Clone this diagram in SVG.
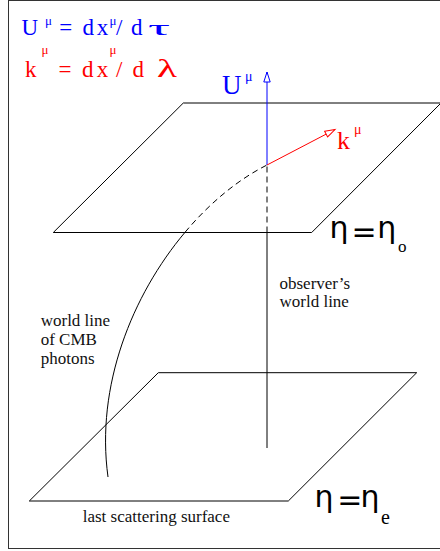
<svg xmlns="http://www.w3.org/2000/svg" width="440" height="551" viewBox="0 0 440 551">
<style>
.ln{fill:none;stroke:#000;stroke-width:1}
.serif{font-family:"Liberation Serif","Times New Roman",serif}
.sym{font-family:"DejaVu Sans",sans-serif;font-size:30px;fill:#000}
.lbl{font-family:"Liberation Serif","Times New Roman",serif;font-size:17px;fill:#111}
.blue{fill:#0000ff}
.red{fill:#ff0000}
.sup{font-size:13px}
</style>
<defs>
<marker id="ahBlue" markerUnits="userSpaceOnUse" markerWidth="12" markerHeight="8" refX="10" refY="4" orient="auto" overflow="visible">
<path d="M0,0.8 L10,4 L0,7.2 Z" fill="#fff" stroke="#0000ff" stroke-width="1"/>
</marker>
<marker id="ahRed" markerUnits="userSpaceOnUse" markerWidth="12" markerHeight="8" refX="10" refY="4" orient="auto" overflow="visible">
<path d="M0,0.8 L10,4 L0,7.2 Z" fill="#fff" stroke="#ff0000" stroke-width="1"/>
</marker>
</defs>
<rect id="frame" x="8.5" y="0.5" width="440" height="548" fill="#fff" stroke="#333" stroke-width="1"/>

<g id="equations" class="serif" font-size="23">
<text class="blue"><tspan x="21.5" y="35">U</tspan><tspan class="sup" x="45" y="24.5">μ</tspan><tspan x="59.3" y="35">=</tspan><tspan x="82.4" y="35">d</tspan><tspan x="96.8" y="35">x</tspan><tspan class="sup" x="109.5" y="24.5">μ</tspan><tspan x="116" y="35">/</tspan><tspan x="131" y="35">d</tspan></text>
<text class="blue" x="148" y="35" font-size="22" textLength="22" lengthAdjust="spacingAndGlyphs">τ</text>
<text class="red"><tspan x="25" y="77">k</tspan><tspan class="sup" x="41.5" y="54">μ</tspan><tspan x="58.5" y="77">=</tspan><tspan x="82" y="77">d</tspan><tspan x="96.8" y="77">x</tspan><tspan class="sup" x="109.5" y="54">μ</tspan><tspan x="116" y="77">/</tspan><tspan x="132.5" y="77">d</tspan></text>
<text class="red" x="157" y="77" font-size="25" textLength="20" lengthAdjust="spacingAndGlyphs">λ</text>
</g>

<g id="plane-observation">
<polygon class="ln" points="183.3,103 441,103 311.7,232.5 53.3,232.5"/>
<g class="sym"><text x="329.6" y="238">η</text><text x="351.5" y="242">=</text><text x="377.3" y="238">η</text></g>
<text class="serif" x="398" y="252" font-size="17">o</text>
</g>

<g id="plane-last-scattering">
<polygon class="ln" points="158.3,372.7 416.7,372.7 288.3,501 29.3,501"/>
<g class="sym"><text x="314.6" y="507">η</text><text x="337.3" y="510">=</text><text x="360.6" y="507">η</text></g>
<text class="serif" x="381" y="523.5" font-size="20">e</text>
<text class="lbl" x="82.7" y="521.7">last scattering surface</text>
</g>

<g id="connectors">
<path id="photon-worldline" class="ln" d="M108,477 C95.49,385.88 132.18,295.09 185.05,232.25"/>
<path id="photon-worldline-hidden" class="ln" stroke-dasharray="6,4" d="M185.05,232.25 C209.93,202.68 238.39,179.3 267,165"/>
<line id="observer-worldline" class="ln" x1="267" y1="448" x2="267" y2="232.5"/>
<line id="observer-worldline-hidden" class="ln" stroke-dasharray="6,4" x1="267" y1="232.5" x2="267" y2="165"/>
<line id="U-vector" x1="267" y1="165" x2="267" y2="72" stroke="#0000ff" stroke-width="1" marker-end="url(#ahBlue)"/>
<line id="k-vector" x1="267" y1="165" x2="335" y2="129.5" stroke="#ff0000" stroke-width="1" marker-end="url(#ahRed)"/>
</g>

<g id="label-U" class="serif blue">
<text x="222" y="94" font-size="27">U</text>
<text x="245" y="81" font-size="14">μ</text>
</g>
<g id="label-k" class="serif red">
<text x="337" y="149" font-size="26">k</text>
<text x="354" y="134" font-size="14">μ</text>
</g>

<g id="label-photons" class="lbl">
<text x="40.7" y="325.5">world line</text>
<text x="40.7" y="345">of CMB</text>
<text x="40.7" y="363.5">photons</text>
</g>
<g id="label-observer" class="lbl">
<text x="279.5" y="289">observer’s</text>
<text x="279.5" y="307">world line</text>
</g>
</svg>
